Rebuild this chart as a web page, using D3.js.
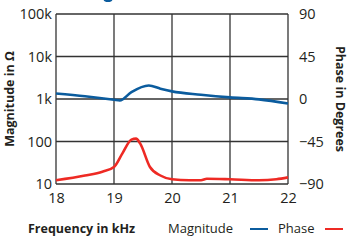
<!DOCTYPE html>
<html>
<head>
<meta charset="utf-8">
<script src="https://cdn.jsdelivr.net/npm/d3@7"></script>
<style>
  body { margin: 0; background: #fff; }
  text { font-family: "Open Sans", "Noto Sans", sans-serif; fill: #231f20; }
</style>
</head>
<body>
<svg id="chart" width="350" height="240"></svg>
<script>
// frequency in kHz
var magFreq = [18, 18.5, 19, 19.1, 19.3, 19.6, 19.8, 20, 20.5, 21, 21.5, 22];
var magValues = [1350, 1160, 960, 920, 1450, 2080, 1750, 1510, 1260, 1090, 980, 780];

var phaseFreq = [18, 18.5, 18.8, 19, 19.15, 19.3, 19.38, 19.45, 19.62, 19.8, 20, 20.3, 20.5, 20.6, 21, 21.5, 21.8, 22];
var phaseValues = [-86, -81, -77, -72, -57, -43, -42, -47, -72, -81, -85, -86, -86, -84.5, -85, -86, -85, -83];

var xTicks = [18, 19, 20, 21, 22];
var magTicks = [10, 100, 1000, 10000, 100000];
var magTickLabels = ["10", "100", "1k", "10k", "100k"];
var phaseTicks = [-90, -45, 0, 45, 90];

var svg = d3.select("#chart");
var margin = { left: 56, right: 62, top: 14, bottom: 56 };
var W = 350, H = 240;
var w = W - margin.left - margin.right;
var h = H - margin.top - margin.bottom;

var x = d3.scaleLinear().domain([18, 22]).range([0, w]);
var yMag = d3.scaleLog().domain([10, 100000]).range([h, 0]);
var yPh = d3.scaleLinear().domain([-90, 90]).range([h, 0]);

var g = svg.append("g").attr("transform", "translate(" + margin.left + "," + margin.top + ")");

// grid
g.selectAll(".vgrid").data(xTicks).enter().append("line")
    .attr("x1", d => x(d)).attr("x2", d => x(d))
    .attr("y1", 0).attr("y2", h)
    .attr("stroke", "#333").attr("stroke-width", 1.3);
g.selectAll(".hgrid").data(magTicks).enter().append("line")
    .attr("x1", 0).attr("x2", w)
    .attr("y1", d => yMag(d)).attr("y2", d => yMag(d))
    .attr("stroke", "#333").attr("stroke-width", 1.3);

// axes (labels only)
var xAxis = g.append("g").attr("transform", "translate(0," + h + ")")
    .call(d3.axisBottom(x).tickValues(xTicks).tickSize(0).tickPadding(9).tickFormat(d3.format("d")));
var leftAxis = g.append("g")
    .call(d3.axisLeft(yMag).tickValues(magTicks).tickSize(0).tickPadding(4)
        .tickFormat((d, i) => magTickLabels[i]));
var rightAxis = g.append("g").attr("transform", "translate(" + w + ",0)")
    .call(d3.axisRight(yPh).tickValues(phaseTicks).tickSize(0).tickPadding(11));

[xAxis, leftAxis, rightAxis].forEach(function (a) {
    a.select(".domain").remove();
    a.selectAll("text").style("font-size", "14.5px").attr("fill", "#231f20")
        .style("font-family", "'Open Sans', sans-serif");
});

// lines
var magLine = d3.line().curve(d3.curveMonotoneX)
    .x((d, i) => x(magFreq[i])).y(d => yMag(d));
g.append("path").datum(magValues)
    .attr("d", magLine).attr("fill", "none")
    .attr("stroke", "#0b5c9e").attr("stroke-width", 2.6);

var phLine = d3.line().curve(d3.curveMonotoneX)
    .x((d, i) => x(phaseFreq[i])).y(d => yPh(d));
g.append("path").datum(phaseValues)
    .attr("d", phLine).attr("fill", "none")
    .attr("stroke", "#ee2a24").attr("stroke-width", 2.6);

// axis titles
svg.append("text")
    .attr("transform", "translate(14," + (margin.top + h / 2) + ") rotate(-90)")
    .attr("text-anchor", "middle")
    .style("font-size", "12.5px").style("font-weight", "bold")
    .text("Magnitude in Ω");
svg.append("text")
    .attr("transform", "translate(336," + (margin.top + h / 2) + ") rotate(90)")
    .attr("text-anchor", "middle")
    .style("font-size", "12.5px").style("font-weight", "bold")
    .text("Phase in Degrees");

svg.append("text").attr("x", 28).attr("y", 233)
    .style("font-size", "12.5px").style("font-weight", "bold")
    .text("Frequency in kHz");

// legend
var leg = svg.append("g");
leg.append("text").attr("x", 168).attr("y", 233).style("font-size", "13px").text("Magnitude");
leg.append("line").attr("x1", 250).attr("x2", 268).attr("y1", 229).attr("y2", 229)
    .attr("stroke", "#0b5c9e").attr("stroke-width", 2);
leg.append("text").attr("x", 278).attr("y", 233).style("font-size", "13px").text("Phase");
leg.append("line").attr("x1", 325).attr("x2", 343).attr("y1", 229).attr("y2", 229)
    .attr("stroke", "#ee2a24").attr("stroke-width", 2);

// cropped title remnant at the top
svg.append("ellipse").attr("cx", 108).attr("cy", -1).attr("rx", 4.5).attr("ry", 3)
    .attr("fill", "#0b5c9e");
</script>
</body>
</html>
